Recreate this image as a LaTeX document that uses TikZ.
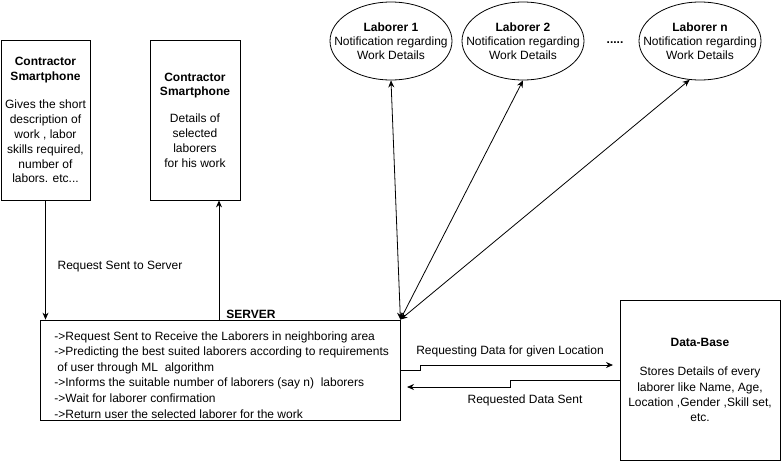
\documentclass[tikz,border=0pt]{standalone}
\usepackage{fontspec}
\setmainfont{Liberation Sans}
\usetikzlibrary{arrows.meta, positioning, shapes.geometric}

\begin{document}
\begin{tikzpicture}[x=1pt, y=-1pt, line width=0.8pt, >={Stealth[length=7pt,width=6pt]},
    box/.style={rectangle,draw,align=center,inner sep=0pt,font=\fontsize{12}{14.8}\selectfont},
    lab/.style={ellipse,draw,minimum width=122pt,minimum height=78pt,inner xsep=-19pt,inner ysep=0pt,align=center,font=\fontsize{12}{14}\selectfont},
    txt/.style={inner sep=0pt,font=\fontsize{12}{14}\selectfont}]
    \useasboundingbox (0,0) rectangle (781,461);
    % phones
    \node[box, minimum width=89pt, minimum height=160pt] (phone1) at (45.5,120) {\textbf{Contractor}\\ \textbf{Smartphone}\\[14pt] Gives the short\\ description of\\ work , labor\\ skills required,\\ number of\\ labors. etc...};
    \node[box, minimum width=90pt, minimum height=160pt] (phone2) at (195,120) {\textbf{Contractor}\\ \textbf{Smartphone}\\[12pt] Details of\\ selected\\ laborers\\ for his work};
    % laborers
    \node[lab] (lab1) at (391,41) {\textbf{Laborer 1}\\ Notification regarding\\ Work Details};
    \node[lab] (lab2) at (523,41) {\textbf{Laborer 2}\\ Notification regarding\\ Work Details};
    \node[lab] (labn) at (700,41) {\textbf{Laborer n}\\ Notification regarding\\ Work Details};
    \node[txt, font=\fontsize{12}{14}\selectfont\bfseries] (dots) at (615,43) {.....};
    % server
    \node[draw, rectangle, minimum width=360pt, minimum height=100pt, inner sep=0pt] (server) at (220,370) {};
    \node[txt, anchor=north west, align=left, font=\fontsize{12}{15.6}\selectfont] (srvtext) at (54,331) {->Request Sent to Receive the Laborers in neighboring area\\ ->Predicting the best suited laborers according to requirements\\ \hspace{3pt}of user through ML\ \ algorithm\\ ->Informs the suitable number of laborers (say n)\ \ laborers\\ ->Wait for laborer confirmation\\ ->Return user the selected laborer for the work};
    \node[txt, font=\fontsize{12}{14}\selectfont\bfseries] (srvlbl) at (251,314) {SERVER};
    % database
    \node[box, minimum width=160pt, minimum height=160pt, font=\fontsize{12}{15.3}\selectfont] (db) at (700,380) {\textbf{Data-Base}\\[14pt] Stores Details of every\\ laborer like Name, Age,\\ Location ,Gender ,Skill set,\\ etc.};
    % labels
    \node[txt] (reqlbl) at (120,267) {Request Sent to Server};
    \node[txt] (asklbl) at (510,351) {Requesting Data for given Location};
    \node[txt] (sentlbl) at (525,400) {Requested Data Sent};
    % connectors
    \coordinate (up2) at (219,320);
    \coordinate (dbin) at (613,365);
    \coordinate (dbout) at (620,380);
    \coordinate (srvin) at (407,387);
    \draw[->] (phone1.south) -- (phone1.south |- server.north);
    \draw[->] (up2) -- (up2 |- phone2.south);
    \draw[<->] (server.north east) -- (lab1.south);
    \draw[<->] (server.north east) -- (lab2.south);
    \draw[<->] (server.north east) -- (labn.255);
    \draw[->] (server.east) -- ++(20,0) |- (dbin);
    \draw[->] (dbout) -- ++(-110,0) |- (srvin);
\end{tikzpicture}
\end{document}
